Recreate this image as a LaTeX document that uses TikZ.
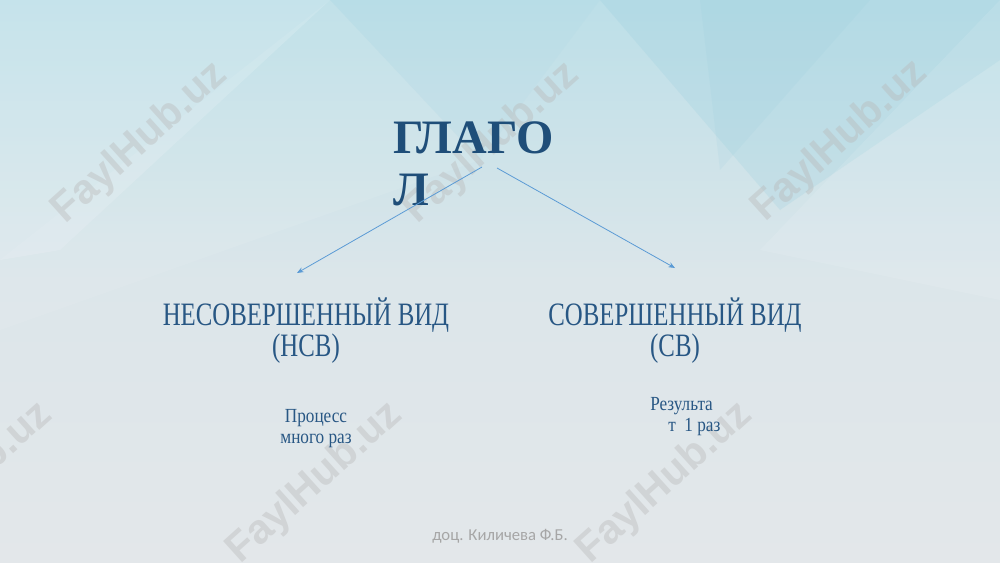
\documentclass[tikz,border=0pt]{standalone}
\usepackage{fontspec}
\setmainfont{Liberation Serif}
\newfontfamily\narrowserif[FakeStretch=0.76]{Liberation Serif}
\newfontfamily\smallserif[FakeStretch=0.86]{Liberation Serif}
\newfontfamily\footsans{Carlito}
\newfontfamily\wmsans{Liberation Sans}
\definecolor{titleblue}{HTML}{1F4E79}
\definecolor{labelblue}{HTML}{285784}
\definecolor{arrowblue}{HTML}{5B9BD5}
\definecolor{bgtop}{HTML}{BCDFE8}
\definecolor{bgmid}{HTML}{DCE6EA}
\definecolor{bgbot}{HTML}{E3E7EA}
\definecolor{facet}{HTML}{8FCADB}
\definecolor{wmgray}{HTML}{B8B8B8}
\usetikzlibrary{arrows.meta}
\tikzset{
  title/.style={font=\bfseries\fontsize{36}{39}\selectfont, text=titleblue, align=left, inner sep=0pt},
  kind/.style={font=\narrowserif\fontsize{24.5}{20.5}\selectfont, text=labelblue, align=center, inner sep=0pt},
  note/.style={font=\smallserif\fontsize{15}{15.5}\selectfont, text=labelblue, inner sep=0pt},
  foot/.style={font=\footsans\fontsize{12.5}{14}\selectfont, text=black!35, inner sep=0pt},
  link/.style={draw=arrowblue, line width=0.6pt, -{Stealth[length=5pt,width=4pt]}},
  wm/.style={font=\wmsans\bfseries\fontsize{31}{31}\selectfont, text=wmgray, text opacity=0.4, rotate=42, inner sep=0pt}
}
\begin{document}
\begin{tikzpicture}[x=0.75pt,y=-0.75pt]
% background
\shade[top color=bgtop, bottom color=bgbot, middle color=bgmid] (0,0) rectangle (1000,562);
\useasboundingbox (0,0) rectangle (1000,562);
% facets
\fill[facet, opacity=0.2] (600,0) -- (1000,0) -- (1000,60) -- (780,210) -- cycle;
\fill[facet, opacity=0.12] (700,0) -- (870,0) -- (720,170) -- cycle;
\fill[white, opacity=0.15] (0,0) -- (330,0) -- (60,250) -- (0,260) -- cycle;
\fill[white, opacity=0.1] (1000,0) -- (1000,300) -- (760,250) -- cycle;
\fill[facet, opacity=0.07] (330,0) -- (600,0) -- (480,160) -- cycle;
\fill[white, opacity=0.08] (0,260) -- (330,0) -- (480,160) -- (0,330) -- cycle;
% watermarks
\node[wm] (w1) at (140,143) {FaylHub.uz};
\node[wm] (w2) at (492,143) {FaylHub.uz};
\node[wm] (w3) at (840,141) {FaylHub.uz};
\node[wm] (w4) at (-35,483) {FaylHub.uz};
\node[wm] (w5) at (315,483) {FaylHub.uz};
\node[wm] (w6) at (665,483) {FaylHub.uz};
% title
\node[title, anchor=base west] (glag) at (393,205) {ГЛАГО\\Л};
\coordinate (l0) at (482,167);
\coordinate (r0) at (497,168);
% kinds
\node[kind, anchor=base] (nsv) at (306,356) {НЕСОВЕРШЕННЫЙ ВИД\\(НСВ)};
\node[kind, anchor=base] (sv) at (675,356) {СОВЕРШЕННЫЙ ВИД\\(СВ)};
\coordinate (l1) at (297,273);
\coordinate (r1) at (675,268);
\draw[link] (l0) -- (l1);
\draw[link] (r0) -- (r1);
% notes
\node[note, align=center, anchor=base] (proc) at (316,443) {Процесс\\много раз};
\node[note, align=left, anchor=base west] (res) at (650,431) {Результа\\\hspace*{13.5pt}т\ \ 1 раз};
% footer
\node[foot] (ft) at (500,536) {доц. Киличева Ф.Б.};
\end{tikzpicture}
\end{document}
